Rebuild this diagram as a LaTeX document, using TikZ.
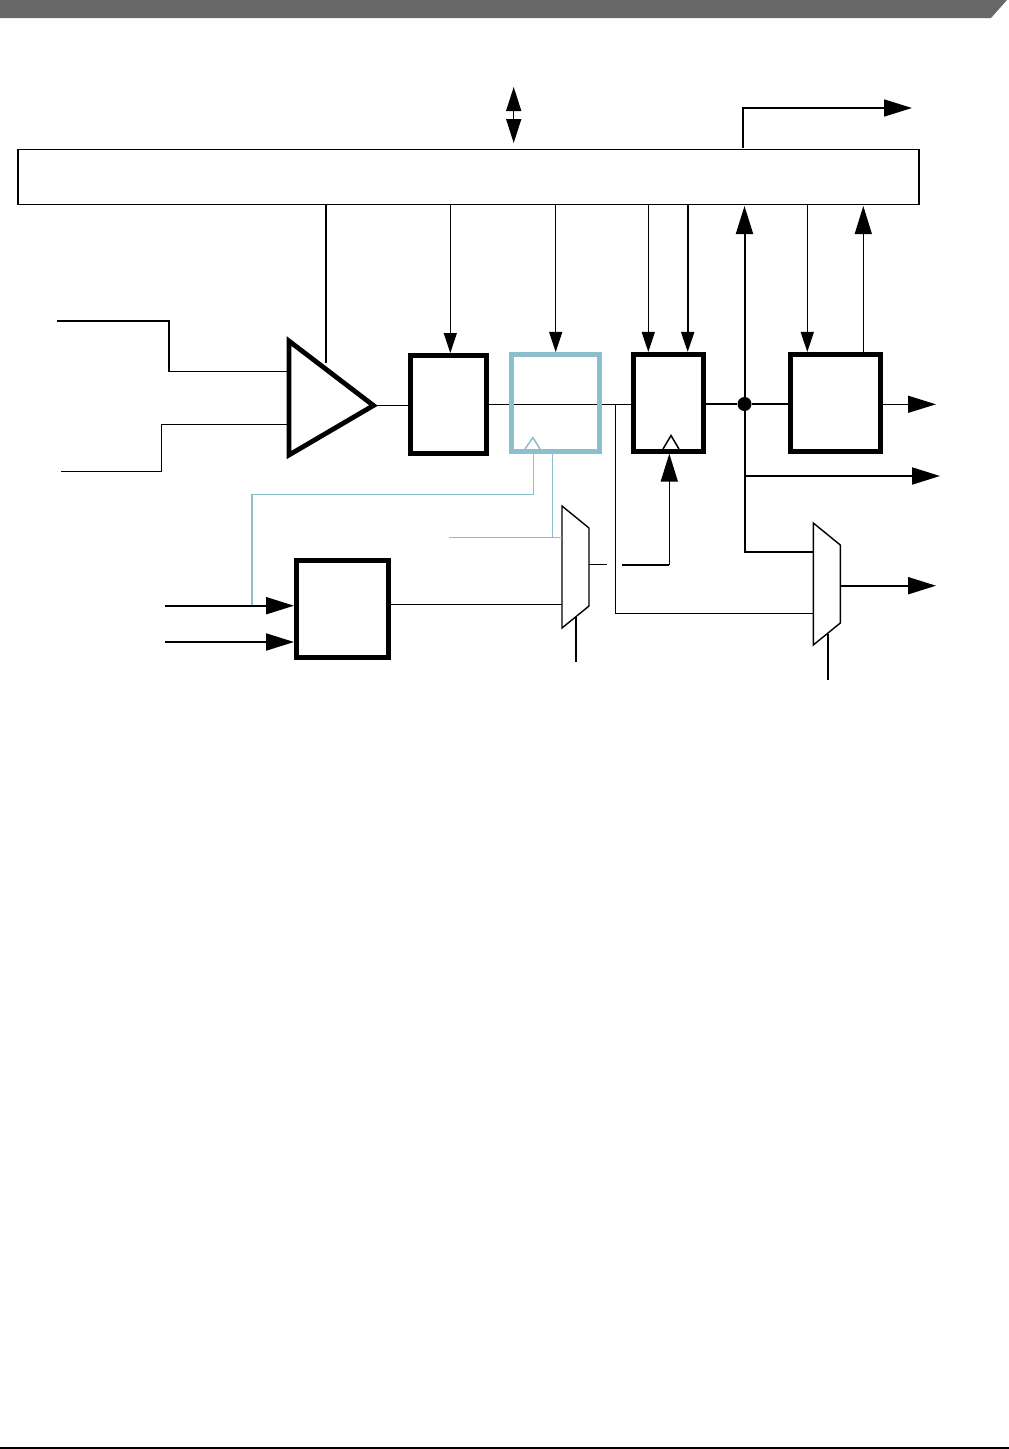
\documentclass[tikz,border=0pt]{standalone}
\usepackage{xcolor}
\definecolor{azulClk}{RGB}{140,190,205}
\definecolor{grisBanda}{RGB}{104,104,104}
\usepackage{tikz}
\usetikzlibrary{arrows.meta, positioning, backgrounds}

\begin{document}
\begin{tikzpicture}[
  x=1pt, y=-1pt,
  block/.style={rectangle, draw, line width=5pt, inner sep=0pt, minimum height=96.7pt},
  blockclk/.style={block, draw=azulClk},
  mux/.style={rectangle, inner sep=0pt, minimum width=27pt, minimum height=122pt},
  muxline/.style={draw, line width=1.4pt, line join=miter, fill=white},
  wire/.style={line width=1.2pt},
  wirefat/.style={line width=2pt},
  wireclk/.style={draw=azulClk, line width=1.5pt},
  arrow/.style={-{Triangle[length=28pt, width=17pt]}},
  arrowin/.style={-{Triangle[length=20pt, width=13pt]}}
]
\useasboundingbox (0,0) rectangle (1009,1449);

% Banda y pie de pagina
\fill[grisBanda] (0,0) -- (1007,0) -- (991,18) -- (0,18) -- cycle;
\draw[line width=1.5pt] (0,1448.2) -- (1009,1448.2);

% Bloques
\node[rectangle, draw, line width=1.5pt, minimum width=901pt, minimum height=55pt] (bus) at (468.5,176.8) {};
\node[block, minimum width=76pt, minimum height=97.5pt] (blockA) at (448.5,404.3) {};
\node[blockclk, minimum width=88pt, right=20pt of blockA, yshift=1.5pt] (blockB) {};
\node[block, minimum width=70pt, right=29pt of blockB] (blockC) {};
\node[block, minimum width=90pt, right=82pt of blockC] (blockD) {};
\node[block, minimum width=92pt, minimum height=97.3pt] (blockE) at (342.5,608.9) {};
\node[mux] (muxA) at (575.5,567) {};
\node[mux] (muxB) at (826.8,584) {};
\node[circle, fill, inner sep=0pt, minimum size=14pt] (tap) at (744.5,404) {};

% Multiplexores
\foreach \m in {muxA, muxB}
  \draw[muxline, shift={(\m.center)}] (-13.5,-61) -- (13.5,-39) -- (13.5,39) -- (-13.5,61) -- cycle;

% Amplificador
\coordinate (ampA) at (289,341);
\coordinate (ampB) at (289,455);
\coordinate (ampC) at (373.5,405.5);
\draw[line width=4.8pt, line join=miter] (ampA) -- (ampC) -- (ampB) -- cycle;

% Relojes
\draw[wireclk] (525,449) -- (532.8,437.5) -- (540,449);
\draw[line width=1.5pt] (663,449) -- (671,435.5) -- (679,449);

% Entradas del amplificador
\coordinate (inA) at (56.7,321);
\coordinate (inB) at (61,471.3);
\draw[wire, line width=1.5pt] (inA) -- (169,321) -- (169,371.3) -- (ampA |- 0,371.3);
\draw[wire] (inB) -- (161.3,471.3) -- (161.3,424.3) -- (ampA |- 0,424.3);
\draw[line width=1.5pt] (326,0 |- bus.south) -- (326,362.5);

% Camino de datos
\begin{scope}[on background layer]
\draw[wire] (blockA.east) -- (blockA.east -| blockC.west);
\end{scope}
\draw[line width=1.5pt] (ampC) -- (blockA.west |- ampC);
\draw[wirefat] (blockC.east |- tap) -- (tap);
\draw[wirefat] (tap) -- (blockD.west |- tap);
\draw[wire, arrow] (blockD.east |- 0,404.3) -- (936,404.3);

% Flechas bus a bloques
\draw[wire, arrowin] (450.3,0 |- bus.south) -- (450.3,0 |- blockA.north);
\draw[wire, arrowin] (555.7,0 |- bus.south) -- (555.7,0 |- blockB.north);
\draw[wire, arrowin] (648.3,0 |- bus.south) -- (648.3,0 |- blockC.north);
\draw[wirefat, arrowin] (687.7,0 |- bus.south) -- (687.7,0 |- blockC.north);
\draw[wire, arrowin] (807.3,0 |- bus.south) -- (807.3,0 |- blockD.north);
\draw[wire, arrow] (863.3,0 |- blockD.north) -- (863.3,206);
\draw[wirefat, arrow] (tap.center) -- (744.5,206);

% Salidas hacia arriba
\draw[line width=1.5pt, {Triangle[length=24pt, width=15pt]}-{Triangle[length=24pt, width=15pt]}] (513.7,87) -- (513.7,143);
\coordinate (busout) at (743,148);
\draw[line width=1.6pt, arrow] (busout) |- (912,108);

% Salidas a la derecha
\draw[wirefat] (tap.center) |- (muxB.west |- 0,551.7);
\draw[wirefat, arrow] (744.5,476) -- (940,476);
\draw[wirefat, arrow] (muxB.east |- 0,585.7) -- (936,585.7);
\draw[wire] (blockA.east -| 615.3,0) |- (muxB.west |- 0,613.3);
\draw[wirefat] (827.8,634) -- (827.8,680);

% Multiplexor de reloj
\draw[wire] (blockE.east |- 0,604.3) -- (muxA.west |- 0,604.3);
\draw[line width=1.8pt] (576,617) -- (576,661.7);
\draw[line width=1pt] (muxA.east |- 0,564.3) -- (607,564.3);
\coordinate (clkgap) at (622,565);
\draw[wirefat] (clkgap) -- (669.3,565);
\draw[line width=1.6pt, arrow] (669.3,565) -- (669.3,0 |- blockC.south);

% Reloj azul
\draw[wireclk] (533.3,449) |- (252,494.3) -- (252,607);
\draw[wireclk, line width=1.2pt] (552.7,0 |- blockB.south) -- (552.7,537.3);
\draw[wireclk, line width=1pt] (449,537.3) -- (muxA.west |- 0,537.3);

% Entradas del divisor
\coordinate (inC) at (165,605.7);
\coordinate (inD) at (165,642);
\draw[wirefat, arrow] (inC) -- (blockE.west |- inC);
\draw[wirefat, arrow] (inD) -- (blockE.west |- inD);
\end{tikzpicture}
\end{document}
